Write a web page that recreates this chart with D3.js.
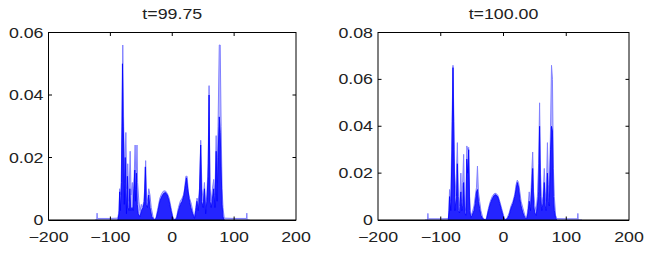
<!DOCTYPE html>
<html>
<head>
<meta charset="utf-8">
<script src="https://cdnjs.cloudflare.com/ajax/libs/d3/7.8.5/d3.min.js"></script>
<style>
  body { margin: 0; background: #fff; }
  text { font-family: "Liberation Sans", Arial, sans-serif; fill: #222; }
</style>
</head>
<body>
<svg id="chart"></svg>
<script>
var titles = ["t=99.75", "t=100.00"];
var xTicks = [-200, -100, 0, 100, 200];
var yTicksLeft = [0, 0.02, 0.04, 0.06];
var yTicksRight = [0, 0.02, 0.04, 0.06, 0.08];

// light envelope of the fast oscillation, t=99.75
var envLeft = [[-125,0],[-122,0],[-121.5,0.0022],[-121,0.0005],[-100,0.0005],[-88,0.0006],[-86,0.003],[-85,0.010],
  [-83,0.008],[-81,0.030],[-80,0.056],[-78.5,0.030],[-77,0.012],[-75,0.028],[-73.5,0.010],[-72,0.018],[-70,0.006],
  [-68,0.022],[-66.5,0.008],[-64.5,0.012],[-63,0.004],[-61.5,0.014],[-60,0.024],[-58.5,0.010],[-57,0.024],[-56,0.012],
  [-54,0.006],[-52,0.003],[-50,0.005],[-48,0.004],[-46,0.006],[-44.5,0.010],[-43,0.019],[-41.5,0.008],[-40,0.006],
  [-38,0.010],[-36,0.008],[-34,0.004],[-31,0.001],[-28,0],[-26,0.001],[-23,0.004],[-20,0.007],[-17,0.0085],
  [-14,0.0093],[-11,0.0093],[-8,0.0085],[-5,0.007],[-2,0.004],[1,0.001],[4,0],[7,0.001],[10,0.004],[13,0.006],
  [16,0.007],[18,0.008],[20,0.010],[22,0.014],[24,0.014],[26,0.009],[28,0.007],[31,0.005],[34,0.002],[36,0.001],
  [38,0.004],[40,0.007],[42,0.006],[44,0.010],[46,0.0255],[48,0.010],[50,0.006],[52,0.012],[54,0.004],[56,0.008],
  [58,0.018],[59.5,0.043],[61,0.010],[63,0.006],[65,0.010],[67,0.013],[69,0.008],[71,0.027],[72.5,0.012],[74,0.030],
  [76,0.056],[77.5,0.056],[79,0.030],[80.5,0.010],[82,0.004],[84,0.0006],[100,0.0005],[120,0.0005],[120.5,0.0022],
  [121,0],[125,0]];

// dark core, t=99.75
var coreLeft = [[-88,0],[-86,0.002],[-85,0.009],[-84,0.003],[-82,0.012],[-80.5,0.050],[-79.5,0.033],[-78.5,0.024],
  [-77.5,0.005],[-76,0.020],[-75,0.010],[-74,0.002],[-72.5,0.014],[-71.5,0.004],[-70,0.003],[-68.5,0.010],[-67,0.003],
  [-65,0.004],[-63.5,0.003],[-62,0.010],[-60.5,0.016],[-59.5,0.006],[-58,0.015],[-56.5,0.005],[-55,0.002],[-52,0.001],
  [-50,0.003],[-47,0.004],[-45,0.006],[-43.5,0.017],[-42,0.005],[-40,0.004],[-38,0.008],[-36,0.004],[-33,0.001],
  [-29,0],[-26,0.0005],[-23,0.003],[-20,0.006],[-17,0.0075],[-14,0.0085],[-11,0.0088],[-8,0.008],[-5,0.006],
  [-2,0.003],[1,0.0005],[4,0],[7,0.0005],[10,0.003],[13,0.005],[16,0.006],[19,0.008],[21,0.011],[23,0.0135],
  [25,0.010],[27,0.007],[30,0.004],[33,0.002],[36,0.0005],[38,0.003],[40,0.006],[42,0.003],[44,0.008],[46,0.024],
  [47.5,0.006],[50,0.004],[52,0.010],[54,0.002],[56,0.006],[58,0.014],[59.5,0.040],[61,0.006],[63,0.004],[65,0.007],
  [67,0.010],[69,0.004],[71,0.022],[72.5,0.006],[74,0.020],[76,0.033],[77.5,0.028],[79,0.016],[80.5,0.005],
  [82,0.001],[84,0]];

// light envelope, t=100.00
var envRight = [[-125,0],[-121,0],[-120.5,0.0028],[-120,0.0005],[-100,0.0005],[-88,0.0006],[-87,0.004],[-86,0.013],
  [-84,0.008],[-82,0.042],[-80.5,0.066],[-79,0.042],[-77.5,0.010],[-75,0.020],[-73.5,0.033],[-72,0.010],[-70,0.006],
  [-68,0.020],[-66.5,0.008],[-65,0.016],[-63.5,0.028],[-62,0.006],[-60,0.004],[-58.5,0.0316],[-57,0.030],
  [-55.5,0.031],[-54,0.010],[-52,0.002],[-50,0.003],[-47,0.006],[-45,0.010],[-43,0.014],[-41.5,0.023],[-40,0.012],
  [-38,0.008],[-36,0.004],[-33,0.001],[-29,0],[-27,0.001],[-24,0.005],[-21,0.008],[-18,0.010],[-15,0.0112],
  [-12,0.0114],[-9,0.0105],[-6,0.008],[-3,0.005],[0,0.002],[3,0],[6,0.001],[9,0.003],[12,0.006],[15,0.008],
  [18,0.011],[20,0.015],[22,0.017],[24,0.016],[26,0.012],[28,0.008],[31,0.005],[34,0.002],[37,0.001],[39,0.005],
  [41,0.012],[43,0.006],[45,0.020],[46.5,0.029],[48,0.012],[50,0.006],[52,0.004],[54,0.010],[56,0.024],[57.5,0.050],
  [59,0.020],[61,0.006],[63,0.010],[65,0.022],[66.5,0.012],[68,0.008],[70,0.033],[71.5,0.015],[73,0.010],[75,0.040],
  [76.5,0.066],[78,0.060],[79.5,0.022],[81,0.010],[83,0.002],[85,0.0006],[100,0.0005],[118,0.0005],[118.5,0.0028],
  [119,0],[125,0]];

// dark core, t=100.00
var coreRight = [[-88,0],[-87,0.003],[-86,0.010],[-84,0.004],[-82,0.030],[-80.5,0.065],[-79,0.030],[-77.5,0.004],
  [-75,0.010],[-73.5,0.024],[-72,0.004],[-70,0.003],[-68,0.012],[-66.5,0.004],[-65,0.006],[-63.5,0.016],[-62,0.003],
  [-60,0.002],[-58.5,0.026],[-57,0.020],[-55.5,0.030],[-54,0.004],[-52,0.001],[-50,0.002],[-47,0.004],[-45,0.007],
  [-43,0.012],[-41.5,0.013],[-40,0.008],[-38,0.005],[-36,0.002],[-33,0.0005],[-29,0],[-27,0.0005],[-24,0.004],
  [-21,0.007],[-18,0.009],[-15,0.0105],[-12,0.0108],[-9,0.0098],[-6,0.007],[-3,0.004],[0,0.001],[3,0],[6,0.0005],
  [9,0.002],[12,0.005],[15,0.007],[18,0.010],[20,0.013],[22,0.016],[24,0.014],[26,0.009],[28,0.006],[31,0.003],
  [34,0.001],[37,0.0005],[39,0.003],[41,0.008],[43,0.004],[45,0.014],[46.5,0.022],[48,0.006],[50,0.003],[52,0.002],
  [54,0.006],[56,0.012],[57.5,0.040],[59,0.010],[61,0.004],[63,0.007],[65,0.016],[66.5,0.006],[68,0.004],[70,0.020],
  [71.5,0.008],[73,0.006],[75,0.030],[76.5,0.040],[78,0.038],[79.5,0.010],[81,0.004],[83,0.001],[85,0]];

var width = 654, height = 258;
var stretch = 1.27;   // picture text is wider than tall

var svg = d3.select("#chart")
    .attr("width", width)
    .attr("height", height);

var panels = [
  { title: titles[0], env: envLeft, core: coreLeft, yMax: 0.06, yTicks: yTicksLeft, left: 48.5, right: 296 },
  { title: titles[1], env: envRight, core: coreRight, yMax: 0.08, yTicks: yTicksRight, left: 378, right: 629 }
];
var plotTop = 32.5, plotBottom = 220;

panels.forEach(function(p, i) {
  var x = d3.scaleLinear().domain([-200, 200]).range([p.left, p.right]);
  var y = d3.scaleLinear().domain([0, p.yMax]).range([plotBottom, plotTop]);

  var g = svg.append("g");

  g.append("clipPath").attr("id", "clip" + i)
    .append("rect")
      .attr("x", p.left).attr("y", plotTop)
      .attr("width", p.right - p.left).attr("height", plotBottom - plotTop);

  var area = d3.area()
      .x(function(d) { return x(d[0]); })
      .y0(y(0))
      .y1(function(d) { return y(d[1]); });
  var line = d3.line()
      .x(function(d) { return x(d[0]); })
      .y(function(d) { return y(d[1]); });

  var plot = g.append("g").attr("clip-path", "url(#clip" + i + ")");

  plot.append("path")
      .attr("d", area(p.env))
      .style("fill", "#b4b4ff");
  plot.append("path")
      .attr("d", line(p.env))
      .style("fill", "none")
      .style("stroke", "#8080ff")
      .style("stroke-width", 1);
  plot.append("path")
      .attr("d", area(p.core))
      .style("fill", "#0000ff")
      .style("fill-opacity", 0.8);
  plot.append("path")
      .attr("d", line(p.core))
      .style("fill", "none")
      .style("stroke", "#0000ff")
      .style("stroke-width", 0.8);

  // box
  g.append("rect")
      .attr("x", p.left).attr("y", plotTop)
      .attr("width", p.right - p.left).attr("height", plotBottom - plotTop)
      .style("fill", "none")
      .style("stroke", "#000")
      .style("stroke-width", 1);
  g.append("line")
      .attr("x1", p.left).attr("x2", p.right)
      .attr("y1", plotBottom + 0.5).attr("y2", plotBottom + 0.5)
      .style("stroke", "#000");

  // inward ticks on all four sides
  var tl = 3.5;
  g.selectAll(".xt").data(xTicks.slice(1, -1)).enter().append("path")
      .attr("d", function(d) {
        return "M" + x(d) + "," + plotBottom + "v" + (-tl) + "M" + x(d) + "," + plotTop + "v" + tl;
      })
      .style("stroke", "#000");
  g.selectAll(".yt").data(p.yTicks.slice(1, -1)).enter().append("path")
      .attr("d", function(d) {
        return "M" + p.left + "," + y(d) + "h" + tl + "M" + p.right + "," + y(d) + "h" + (-tl);
      })
      .style("stroke", "#000");

  // labels
  g.selectAll(".xl").data(xTicks).enter().append("text")
      .attr("transform", function(d) { return "translate(" + x(d) + "," + 241.5 + ") scale(" + stretch + ",1)"; })
      .style("text-anchor", "middle")
      .style("font-size", "14px")
      .text(function(d) { return d < 0 ? "\u2212" + (-d) : d; });

  g.selectAll(".yl").data(p.yTicks).enter().append("text")
      .attr("transform", function(d) { return "translate(" + (p.left - 5) + "," + (y(d) + 5) + ") scale(" + stretch + ",1)"; })
      .style("text-anchor", "end")
      .style("font-size", "14px")
      .text(function(d) { return d === 0 ? "0" : d3.format(".2f")(d); });

  g.append("text")
      .attr("transform", "translate(" + ((p.left + p.right) / 2) + ",18.5) scale(" + stretch + ",1)")
      .style("text-anchor", "middle")
      .style("font-size", "14px")
      .text(p.title);
});
</script>
</body>
</html>
